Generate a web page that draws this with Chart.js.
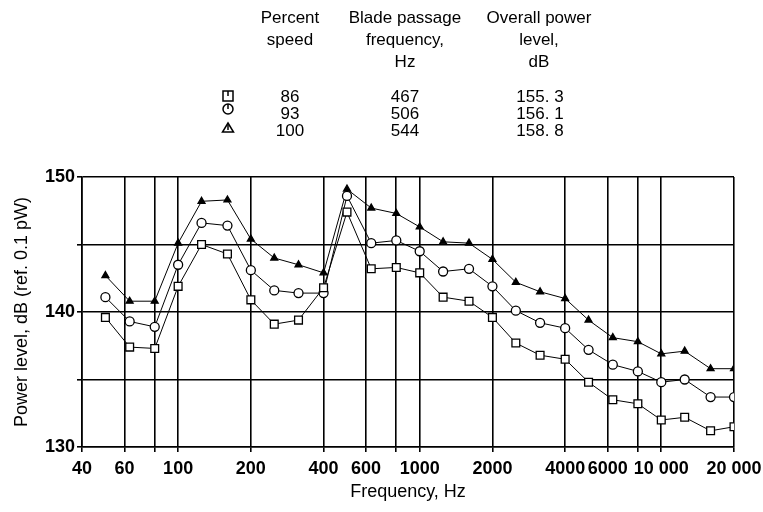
<!DOCTYPE html>
<html><head><meta charset="utf-8">
<script src="https://cdn.jsdelivr.net/npm/chart.js@4"></script>
<style>
html,body{margin:0;padding:0;background:#fff;}
#wrap{position:relative;width:763px;height:512px;overflow:hidden;}
canvas{position:absolute;left:0;top:0;}
.t{position:absolute;transform:translateX(-50%);text-align:center;white-space:nowrap;color:#000;}
.h{font-family:'Liberation Sans',Arial,sans-serif;font-size:17px;line-height:22px;}
.n{font-family:'Liberation Sans',Arial,sans-serif;font-size:17px;line-height:18px;}
.m{position:absolute;}
</style></head><body>
<div id="wrap">
<canvas id="c" width="763" height="512"></canvas>
<div class="t h" style="left:290px;top:7px;">Percent<br>speed</div>
<div class="t h" style="left:405px;top:7px;">Blade passage<br>frequency,<br>Hz</div>
<div class="t h" style="left:539px;top:7px;">Overall power<br>level,<br>dB</div>
<div id="rows"></div>
<svg class="m" style="left:220px;top:88px;" width="16" height="50" viewBox="0 0 16 50">
  <rect x="3" y="3" width="10" height="10" fill="none" stroke="#000" stroke-width="1.5"/>
  <line x1="8" y1="3" x2="8" y2="8" stroke="#000" stroke-width="1.5"/>
  <circle cx="8" cy="21" r="5" fill="none" stroke="#000" stroke-width="1.5"/>
  <line x1="8" y1="16" x2="8" y2="21" stroke="#000" stroke-width="1.5"/>
  <polygon points="8,35 13.5,44 2.5,44" fill="none" stroke="#000" stroke-width="1.5"/>
  <line x1="8" y1="37" x2="8" y2="42" stroke="#000" stroke-width="1.5"/>
</svg>
</div>
<script>
// ---- data ----
const freqs = [50,63,80,100,125,160,200,250,315,400,500,630,800,1000,1250,1600,2000,2500,3150,4000,5000,6300,8000,10000,12500,16000,20000];
const speed86  = [139.6,137.4,137.3,141.9,145.0,144.3,140.9,139.1,139.4,141.8,147.4,143.2,143.3,142.9,141.1,140.8,139.6,137.7,136.8,136.5,134.8,133.5,133.2,132.0,132.2,131.2,131.5];
const speed93  = [141.1,139.3,138.9,143.5,146.6,146.4,143.1,141.6,141.4,141.4,148.6,145.1,145.3,144.5,143.0,143.2,141.9,140.1,139.2,138.8,137.2,136.1,135.6,134.8,135.0,133.7,133.7];
const speed100 = [142.7,140.8,140.8,145.1,148.2,148.3,145.4,144.0,143.5,142.9,149.1,147.7,147.3,146.3,145.2,145.1,143.9,142.2,141.5,141.0,139.4,138.1,137.8,136.9,137.1,135.8,135.8];
const xTickValues = [40,60,80,100,200,400,600,800,1000,2000,4000,6000,8000,10000,20000];
const xTickLabels = ['40','60','','100','200','400','600','','1000','2000','4000','6000','','10 000','20 000'];
const yTickLabels = {130:'130',140:'140',150:'150'};
const legendPercent = ['86','93','100'];
const legendBPF = ['467','506','544'];
const legendPower = ['155. 3','156. 1','158. 8'];

// ---- legend rows ----
const rowsEl = document.getElementById('rows');
const rowY = [88,105,122];
legendPercent.forEach((p,i)=>{
  [[290,p],[405,legendBPF[i]],[540,legendPower[i]]].forEach(([x,txt])=>{
    const d=document.createElement('div');
    d.className='t n'; d.style.left=x+'px'; d.style.top=rowY[i]+'px'; d.textContent=txt;
    rowsEl.appendChild(d);
  });
});

const tf = "'Liberation Sans',Arial,sans-serif";
const mk = (vals)=>freqs.map((f,i)=>({x:f,y:vals[i]}));
const base = {borderColor:'#000',borderWidth:1,tension:0,pointBorderColor:'#000',pointBorderWidth:1.3};

new Chart(document.getElementById('c'),{
  type:'line',
  data:{datasets:[
    Object.assign({label:'86',data:mk(speed86),pointStyle:'rect',pointRadius:5.5,pointBackgroundColor:'#fff'},base),
    Object.assign({label:'93',data:mk(speed93),pointStyle:'circle',pointRadius:4.5,pointBackgroundColor:'#fff'},base),
    Object.assign({label:'100',data:mk(speed100),pointStyle:'triangle',pointRadius:4,pointBackgroundColor:'#000'},base)
  ]},
  options:{
    responsive:false,animation:false,
    layout:{padding:{top:177,right:29,left:0,bottom:0}},
    plugins:{legend:{display:false},tooltip:{enabled:false}},
    scales:{
      x:{type:'logarithmic',min:40,max:20000,
        afterBuildTicks(s){s.ticks=xTickValues.map(v=>({value:v}));},
        afterFit(s){s.height=65;s.paddingLeft=0;s.paddingRight=0;},
        ticks:{autoSkip:false,maxRotation:0,minRotation:0,color:'#000',padding:6,
          font:{family:tf,size:18,weight:'bold'},
          callback:(v,i)=>xTickLabels[i]},
        grid:{color:'#000',lineWidth:1.6,tickLength:5},
        border:{color:'#000',width:1.6},
        title:{display:true,text:'Frequency, Hz',color:'#000',font:{family:tf,size:18},padding:{top:0,bottom:9}}
      },
      y:{min:130,max:150,
        afterFit(s){s.width=82;s.paddingTop=0;s.paddingBottom=0;},
        ticks:{stepSize:5,color:'#000',padding:2,font:{family:tf,size:18,weight:'bold'},
          callback:(v)=>yTickLabels[v]||''},
        grid:{color:'#000',lineWidth:1.6,tickLength:5},
        border:{color:'#000',width:1.6},
        title:{display:true,text:'Power level, dB (ref. 0.1 pW)',color:'#000',font:{family:tf,size:18},padding:{top:11,bottom:0}}
      }
    }
  }
});
</script>
</body></html>
